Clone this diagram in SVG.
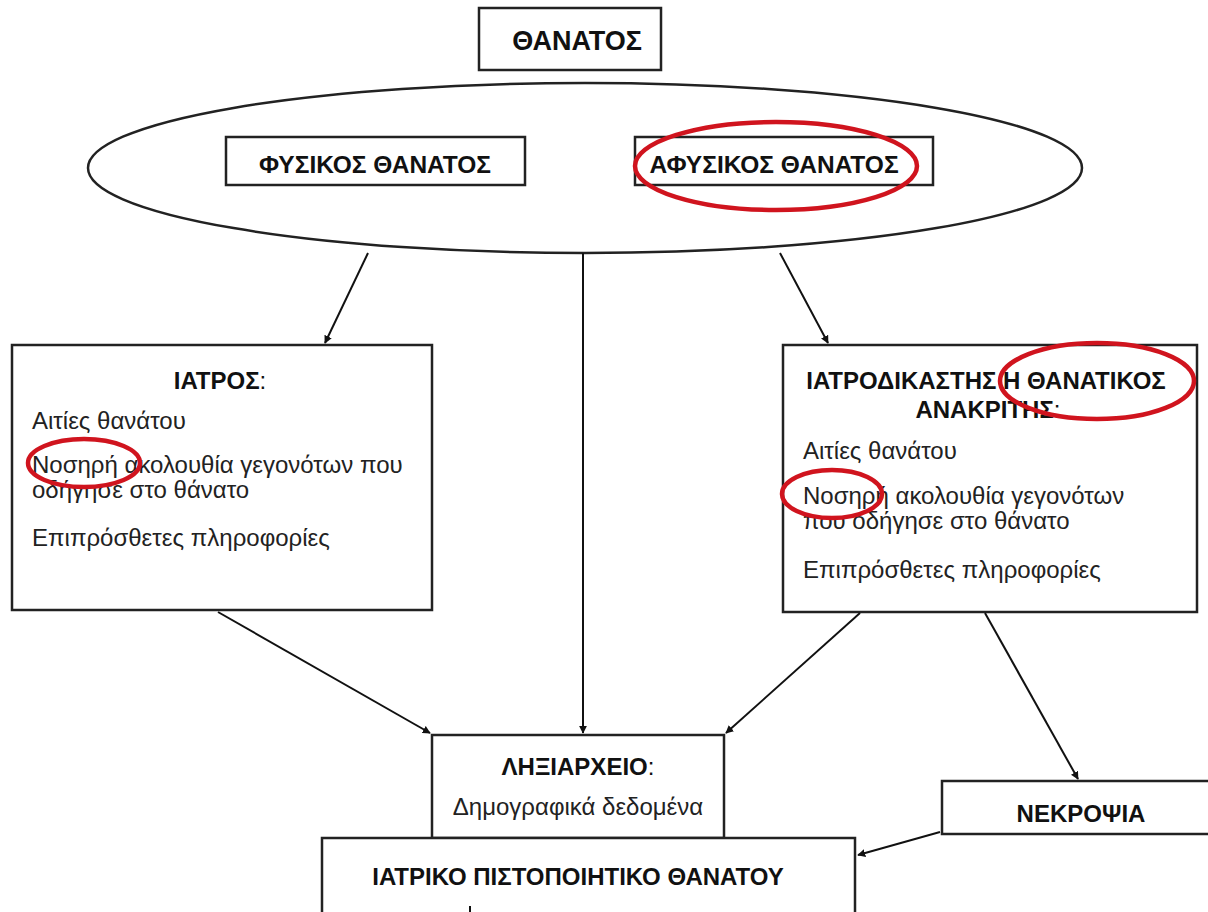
<svg xmlns="http://www.w3.org/2000/svg" width="1208" height="912" viewBox="0 0 1208 912">
<defs>
<marker id="arr" viewBox="0 0 10 10" refX="9" refY="5" markerWidth="8" markerHeight="8" orient="auto" markerUnits="userSpaceOnUse">
<path d="M0,0 L10,5 L0,10 z" fill="#111"/>
</marker>
<style>
.box{fill:#fff;stroke:#222;stroke-width:2.5}
.t{font-family:"Liberation Sans",Arial,sans-serif;font-weight:bold;font-size:24px;fill:#111;text-anchor:middle}
.b{font-family:"Liberation Sans",Arial,sans-serif;font-size:24px;fill:#222}
.red{fill:none;stroke:#d0141e;stroke-width:4.5}
.c{stroke:#111;stroke-width:2;fill:none;marker-end:url(#arr)}
</style>
</defs>
<rect width="1208" height="912" fill="#fff"/>
<g id="thanatos"><rect class="box" x="479" y="8" width="182" height="62"/><text class="t" x="577" y="50" style="font-size:27px">ΘΑΝΑΤΟΣ</text></g>
<g id="ellipse"><ellipse cx="585" cy="168" rx="497" ry="85" fill="#fff" stroke="#222" stroke-width="2.5"/></g>
<g id="fysikos"><rect class="box" x="226" y="137" width="299" height="48"/><text class="t" x="375" y="173" style="font-size:24.5px">ΦΥΣΙΚΟΣ ΘΑΝΑΤΟΣ</text></g>
<g id="afysikos"><rect class="box" x="635" y="137" width="298" height="48"/><text class="t" x="774" y="173" style="font-size:24.5px">ΑΦΥΣΙΚΟΣ ΘΑΝΑΤΟΣ</text><ellipse class="red" cx="776" cy="166" rx="141" ry="44"/></g>
<g id="iatros"><rect class="box" x="12" y="345" width="420" height="265"/>
<text class="t" x="220" y="389">ΙΑΤΡΟΣ<tspan font-weight="normal">:</tspan></text>
<text class="b" x="32" y="429">Αιτίες θανάτου</text>
<text class="b" x="32" y="473">Νοσηρή ακολουθία γεγονότων που</text>
<text class="b" x="32" y="498">οδήγησε στο θάνατο</text>
<text class="b" x="32" y="546">Επιπρόσθετες πληροφορίες</text>
<ellipse class="red" cx="84" cy="463" rx="56" ry="24"/></g>
<g id="iatrodikastis"><rect class="box" x="783" y="345" width="414" height="267"/>
<text class="t" x="986" y="389">ΙΑΤΡΟΔΙΚΑΣΤΗΣ Η ΘΑΝΑΤΙΚΟΣ</text>
<text class="t" x="988" y="418">ΑΝΑΚΡΙΤΗΣ<tspan font-weight="normal">:</tspan></text>
<text class="b" x="803" y="459">Αιτίες θανάτου</text>
<text class="b" x="803" y="504">Νοσηρή ακολουθία γεγονότων</text>
<text class="b" x="803" y="529">που οδήγησε στο θάνατο</text>
<text class="b" x="803" y="578">Επιπρόσθετες πληροφορίες</text>
<ellipse class="red" cx="1097" cy="381" rx="97" ry="38"/>
<ellipse class="red" cx="832" cy="494" rx="50" ry="24"/></g>
<g id="lixiarxeio"><rect class="box" x="432" y="735" width="292" height="103"/>
<text class="t" x="578" y="775">ΛΗΞΙΑΡΧΕΙΟ<tspan font-weight="normal">:</tspan></text>
<text class="b" x="578" y="815" text-anchor="middle">Δημογραφικά δεδομένα</text></g>
<g id="nekropsia"><rect class="box" x="942" y="781" width="270" height="53"/><text class="t" x="1081" y="822">ΝΕΚΡΟΨΙΑ</text></g>
<g id="pistopoiitiko"><rect class="box" x="322" y="838" width="533" height="80"/><text class="t" x="578" y="885">ΙΑΤΡΙΚΟ ΠΙΣΤΟΠΟΙΗΤΙΚΟ ΘΑΝΑΤΟΥ</text></g>
<g id="connectors">
<line class="c" x1="368" y1="253" x2="325" y2="343"/>
<line class="c" x1="583" y1="253" x2="583" y2="733"/>
<line class="c" x1="780" y1="253" x2="828" y2="343"/>
<line class="c" x1="218" y1="612" x2="430" y2="733"/>
<line class="c" x1="860" y1="613" x2="726" y2="733"/>
<line class="c" x1="985" y1="613" x2="1078" y2="779"/>
<line class="c" x1="940" y1="832" x2="858" y2="855"/>
<line x1="470" y1="906" x2="470" y2="912" stroke="#111" stroke-width="2"/>
</g>
</svg>
